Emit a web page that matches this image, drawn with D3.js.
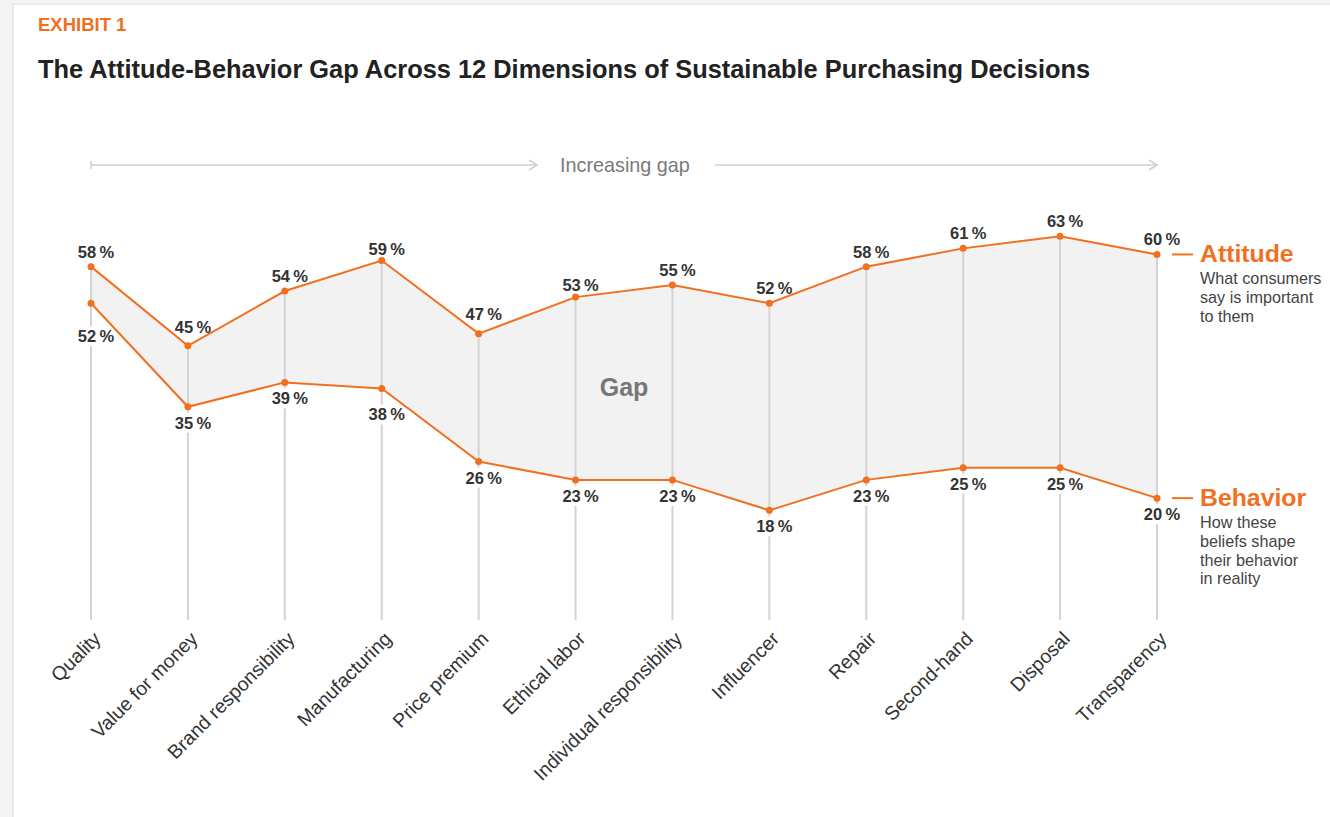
<!DOCTYPE html>
<html>
<head>
<meta charset="utf-8">
<script src="https://cdn.jsdelivr.net/npm/d3@7"></script>
<style>
  body { margin: 0; background: #fff; }
  svg { display: block; font-family: "Liberation Sans", Arial, Helvetica, sans-serif; }
</style>
</head>
<body>
<svg id="chart"></svg>
<script>
// data read from the exhibit
const categories = [
  'Quality', 'Value for money', 'Brand responsibility', 'Manufacturing',
  'Price premium', 'Ethical labor', 'Individual responsibility', 'Influencer',
  'Repair', 'Second-hand', 'Disposal', 'Transparency'
];
const attitude = [58, 45, 54, 59, 47, 53, 55, 52, 58, 61, 63, 60];
const behavior = [52, 35, 39, 38, 26, 23, 23, 18, 23, 25, 25, 20];
const attitudeNote = ['What consumers', 'say is important', 'to them'];
const behaviorNote = ['How these', 'beliefs shape', 'their behavior', 'in reality'];

const width = 1330, height = 817;
const orange = '#f1701f';
const grid = '#d3d3d3';

const svg = d3.select('#chart')
  .attr('width', width)
  .attr('height', height);

// page frame
svg.append('rect').attr('width', width).attr('height', height).attr('fill', '#f4f4f4');
svg.append('rect').attr('x', 12).attr('y', 3).attr('width', width).attr('height', height).attr('fill', '#e9e9e9');
svg.append('rect').attr('x', 14).attr('y', 5).attr('width', width).attr('height', height).attr('fill', '#fff');

// titles
svg.append('text')
  .attr('x', 38).attr('y', 31)
  .attr('fill', orange)
  .attr('font-size', 18.5).attr('font-weight', 700)
  .text('EXHIBIT 1');

svg.append('text')
  .attr('x', 38).attr('y', 78)
  .attr('fill', '#222')
  .attr('font-size', 25.4).attr('font-weight', 700)
  .text('The Attitude-Behavior Gap Across 12 Dimensions of Sustainable Purchasing Decisions');

// scales
const x = d3.scalePoint().domain(categories).range([91, 1157]);
const y = d3.scaleLinear().domain([0, 65]).range([620, 224]);

const rows = categories.map((c, i) => ({ c, a: attitude[i], b: behavior[i] }));

// "Increasing gap" arrow
const arrowY = 165;
const arrow = svg.append('g').attr('stroke', '#cfcfcf').attr('stroke-width', 1.5).attr('fill', 'none');
arrow.append('line').attr('x1', x(categories[0])).attr('x2', 537).attr('y1', arrowY).attr('y2', arrowY);
arrow.append('line').attr('x1', x(categories[0])).attr('x2', x(categories[0])).attr('y1', arrowY - 4).attr('y2', arrowY + 4);
arrow.append('line').attr('x1', 715).attr('x2', x(categories[11])).attr('y1', arrowY).attr('y2', arrowY);
[537, x(categories[11])].forEach(ax => {
  arrow.append('path').attr('d', `M${ax - 8},${arrowY - 5}L${ax},${arrowY}L${ax - 8},${arrowY + 5}`);
});
svg.append('text')
  .attr('x', 625).attr('y', arrowY + 7)
  .attr('text-anchor', 'middle')
  .attr('fill', '#7a7a7a')
  .attr('font-size', 19.8)
  .text('Increasing gap');

// gap area
const area = d3.area()
  .x(d => x(d.c))
  .y0(d => y(d.b))
  .y1(d => y(d.a));

svg.append('path')
  .datum(rows)
  .attr('fill', '#f2f2f2')
  .attr('d', area);

// vertical guides
svg.append('g')
  .selectAll('line')
  .data(rows)
  .join('line')
  .attr('x1', d => x(d.c)).attr('x2', d => x(d.c))
  .attr('y1', d => y(d.a)).attr('y2', y(0))
  .attr('stroke', grid)
  .attr('stroke-width', 2);

svg.append('text')
  .attr('x', 624).attr('y', 396)
  .attr('text-anchor', 'middle')
  .attr('fill', '#777')
  .attr('font-size', 25).attr('font-weight', 700)
  .text('Gap');

// value labels (a few nudged to avoid crowding, as in the original)
const topNudge = { 'Value for money': -4, 'Price premium': -5, 'Manufacturing': 3, 'Ethical labor': 3 };
const bottomNudge = { 'Quality': 17, 'Manufacturing': 10 };
const fmt = v => `${v}\u2009%`;

// white backing layer sits between guides and the orange lines
const backing = svg.append('g');
const marks = svg.append('g');

const labels = svg.append('g')
  .attr('font-size', 16.5)
  .attr('font-weight', 700)
  .attr('fill', '#333')
  .attr('text-anchor', 'middle');

labels.selectAll('text.top')
  .data(rows)
  .join('text')
  .attr('class', 'top')
  .attr('x', d => x(d.c) + 5)
  .attr('y', d => y(d.a) - 9 + (topNudge[d.c] || 0))
  .text(d => fmt(d.a));

labels.selectAll('text.bottom')
  .data(rows)
  .join('text')
  .attr('class', 'bottom')
  .attr('x', d => x(d.c) + 5)
  .attr('y', d => y(d.b) + 22 + (bottomNudge[d.c] || 0))
  .text(d => fmt(d.b))
  .each(function () {
    const bb = this.getBBox();
    backing.append('rect')
      .attr('x', bb.x - 2).attr('y', bb.y - 1)
      .attr('width', bb.width + 4).attr('height', bb.height + 2)
      .attr('fill', '#fff');
  });

// lines + dots
const line = key => d3.line().x(d => x(d.c)).y(d => y(d[key]));

['a', 'b'].forEach(key => {
  marks.append('path')
    .datum(rows)
    .attr('fill', 'none')
    .attr('stroke', orange)
    .attr('stroke-width', 2)
    .attr('d', line(key));

  marks.append('g')
    .selectAll('circle')
    .data(rows)
    .join('circle')
    .attr('cx', d => x(d.c))
    .attr('cy', d => y(d[key]))
    .attr('r', 3.5)
    .attr('fill', orange);
});

// category axis
svg.append('g')
  .selectAll('text')
  .data(categories)
  .join('text')
  .attr('transform', d => `translate(${x(d) + 11},${640}) rotate(-45)`)
  .attr('text-anchor', 'end')
  .attr('fill', '#333')
  .attr('font-size', 19.5)
  .text(d => d);

// legend on the right
const last = rows[rows.length - 1];
function legend(val, title, note, titleDy) {
  const ly = y(val);
  svg.append('line')
    .attr('x1', 1172).attr('x2', 1193)
    .attr('y1', ly).attr('y2', ly)
    .attr('stroke', orange).attr('stroke-width', 2);
  svg.append('text')
    .attr('x', 1200).attr('y', ly + titleDy)
    .attr('fill', orange)
    .attr('font-size', 24.8).attr('font-weight', 700)
    .text(title);
  svg.append('text')
    .attr('fill', '#444')
    .attr('font-size', 16.2)
    .selectAll('tspan')
    .data(note)
    .join('tspan')
    .attr('x', 1200)
    .attr('y', (d, i) => ly + titleDy + 22 + i * 18.7)
    .text(d => d);
}
legend(last.a, 'Attitude', attitudeNote, 8);
legend(last.b, 'Behavior', behaviorNote, 8);
</script>
</body>
</html>
